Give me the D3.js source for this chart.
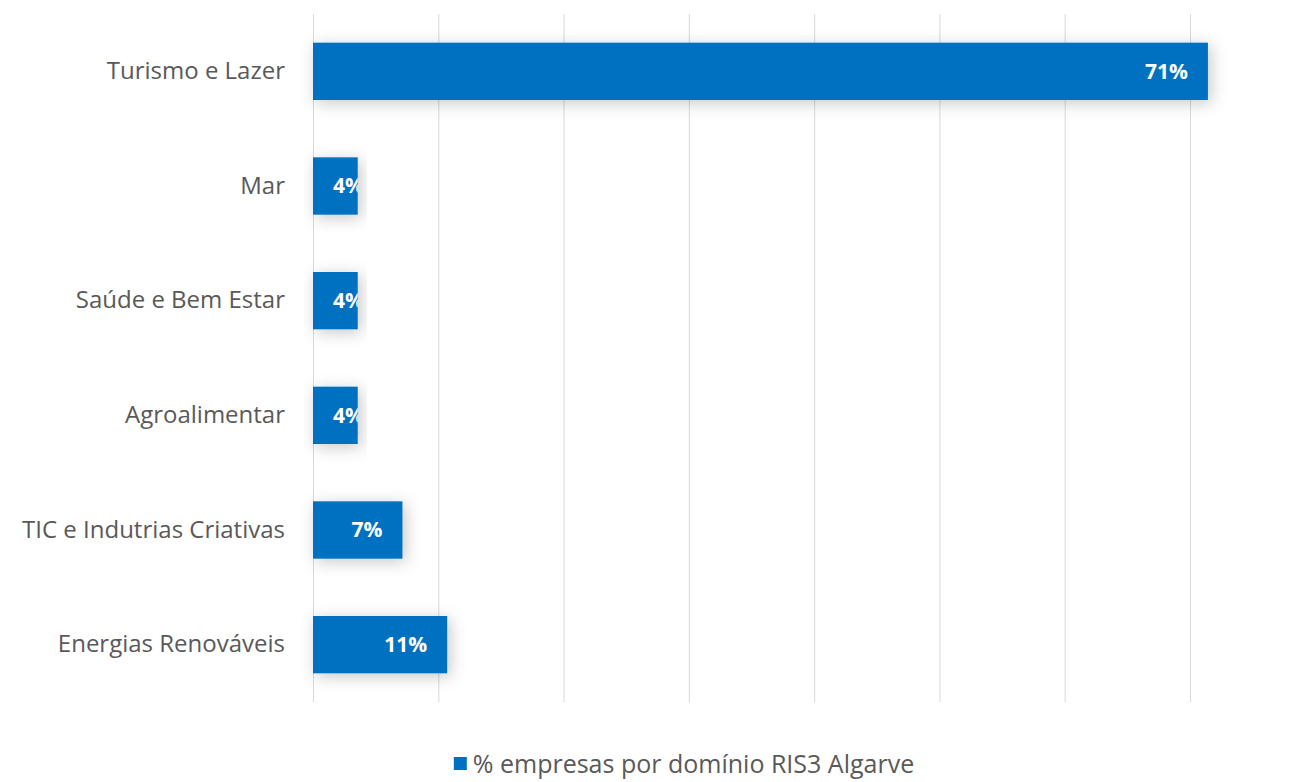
<!DOCTYPE html>
<html>
<head>
<meta charset="utf-8">
<script src="https://cdn.jsdelivr.net/npm/d3@7"></script>
<style>
  body { margin: 0; background: #fff; }
  svg { display: block; }
</style>
</head>
<body>
<div id="chart"></div>
<script>
// data: 28 empresas, share per RIS3 domain
const categories = ['Turismo e Lazer', 'Mar', 'Saúde e Bem Estar', 'Agroalimentar', 'TIC e Indutrias Criativas', 'Energias Renováveis']
const values = [0.7143, 0.0357, 0.0357, 0.0357, 0.0714, 0.1071]
const xTicks = [0, 0.1, 0.2, 0.3, 0.4, 0.5, 0.6, 0.7]
const seriesName = '% empresas por domínio RIS3 Algarve'

const W = 1297, H = 782
const margin = { top: 14, right: 107, bottom: 80, left: 313 }
const width = W - margin.left - margin.right
const height = H - margin.top - margin.bottom

const svg = d3.select('#chart').append('svg').attr('width', W).attr('height', H)

const defs = svg.append('defs')
const shadow = defs.append('filter').attr('id', 'shadow')
  .attr('x', '-20%').attr('y', '-60%').attr('width', '140%').attr('height', '220%')
shadow.append('feDropShadow')
  .attr('dx', 3).attr('dy', 3).attr('stdDeviation', 8)
  .attr('flood-color', '#000').attr('flood-opacity', 0.22)

const g = svg.append('g').attr('transform', `translate(${margin.left}, ${margin.top})`)

const x = d3.scaleLinear().domain([0, 0.7]).range([0, 1190 - margin.left])
const y = d3.scaleBand().domain(categories).range([0, height]).paddingInner(0.5).paddingOuter(0.25)

// gridlines
g.append('g')
  .selectAll('line')
  .data(xTicks)
  .join('line')
  .attr('x1', (d) => x(d) + 0.5)
  .attr('x2', (d) => x(d) + 0.5)
  .attr('y1', 0)
  .attr('y2', height)
  .attr('stroke', '#d9d9d9')
  .attr('stroke-width', 1)

// category labels
g.append('g')
  .call(d3.axisLeft(y).tickSize(0).tickPadding(28))
  .call((a) => a.select('.domain').remove())
  .selectAll('text')
  .attr('font-family', '"Open Sans", sans-serif')
  .attr('font-size', '24px')
  .attr('fill', '#595959')

const rows = categories.map((c, i) => ({ cat: c, val: values[i], i }))

rows.forEach((d) => {
  defs.append('clipPath').attr('id', 'clip' + d.i)
    .append('rect')
    .attr('x', x(0)).attr('y', y(d.cat))
    .attr('width', x(d.val) - x(0)).attr('height', y.bandwidth())
})

g.append('g')
  .selectAll('rect')
  .data(rows)
  .join('rect')
  .attr('x', x(0))
  .attr('y', (d) => y(d.cat))
  .attr('width', (d) => x(d.val) - x(0))
  .attr('height', y.bandwidth())
  .attr('fill', '#0070c0')
  .attr('filter', 'url(#shadow)')

// value labels, inside end, clipped to bar
g.append('g')
  .selectAll('text')
  .data(rows)
  .join('text')
  .attr('clip-path', (d) => `url(#clip${d.i})`)
  .attr('y', (d) => y(d.cat) + y.bandwidth() / 2)
  .attr('dy', '0.35em')
  .attr('text-anchor', 'end')
  .attr('font-family', '"Open Sans", sans-serif')
  .attr('font-weight', 'bold')
  .attr('font-size', '21px')
  .attr('fill', '#fff')
  .text((d) => d3.format('.0%')(d.val))
  .attr('x', function (d) {
    const tw = this.getComputedTextLength()
    return Math.max(x(d.val) - 20, x(0) + 20 + tw)
  })

// legend
const legend = svg.append('g')
const lt = legend.append('text')
  .attr('y', 764)
  .attr('dy', '0.35em')
  .attr('font-family', '"Open Sans", sans-serif')
  .attr('font-size', '25px')
  .attr('fill', '#595959')
  .text(seriesName)
const tw = lt.node().getComputedTextLength()
const lx = 684 - (tw + 19) / 2
legend.append('rect').attr('x', lx).attr('y', 757).attr('width', 13).attr('height', 13).attr('fill', '#0070c0')
lt.attr('x', lx + 19)
</script>
</body>
</html>
